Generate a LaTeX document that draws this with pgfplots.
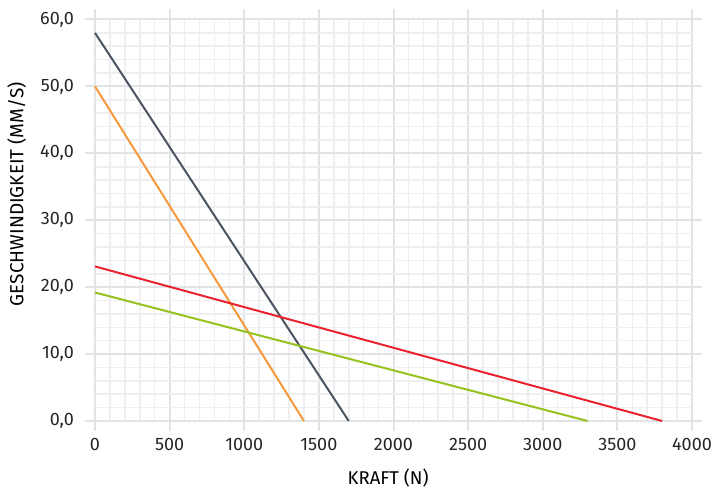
\documentclass[border=0pt]{standalone}
\usepackage{fontspec}
\setmainfont{Fira Sans}
\usepackage{pgfplots}
\pgfplotsset{compat=1.18}
\definecolor{gridmajor}{HTML}{E2E3E5}
\definecolor{gridminor}{HTML}{EFEFF1}
\definecolor{cslate}{HTML}{4B5461}
\definecolor{corange}{HTML}{F59A3B}
\definecolor{cred}{HTML}{E8232E}
\definecolor{cgreen}{HTML}{96C21E}
\begin{document}
\fontsize{18}{21}\selectfont
\begin{tikzpicture}
\begin{axis}[
  width=597pt, height=401.5pt, scale only axis,
  xmin=0, xmax=4000, ymin=0, ymax=60,
  xtick={0,500,...,4000}, ytick={0,10,...,60},
  minor xtick={100,200,...,3900}, minor ytick={2,4,...,58},
  grid=both,
  major grid style={gridmajor, line width=2pt},
  minor grid style={gridminor, line width=1.6pt},
  axis line style={draw=none},
  tick align=outside,
  major tick length=10pt, minor tick length=0pt,
  major tick style={gridmajor, line width=2pt},
  xticklabel style={font=\fontsize{18}{21}\selectfont, color=black!85, yshift=-1pt},
  yticklabel style={font=\fontsize{18}{21}\selectfont, color=black!85, xshift=-5pt,
    /pgf/number format/.cd, fixed, fixed zerofill, precision=1, use comma},
  /pgf/number format/assume math mode=true,
  /pgf/number format/1000 sep={},
  xlabel={KRAFT (N)}, ylabel={GESCHWINDIGKEIT (MM/S)},
  xlabel style={font=\fontsize{18.5}{21}\selectfont, at={(axis description cs:0.491,-0.142)}, anchor=center},
  ylabel style={font=\fontsize{19}{21}\selectfont, at={(axis description cs:-0.131,0.565)}, anchor=center},
  every axis plot/.append style={line width=2pt, no markers},
  clip=false,
]
\addplot[cslate] coordinates {(0,58) (1700,0)};
\addplot[corange] coordinates {(0,50) (1400,0)};
\addplot[cred] coordinates {(0,23.1) (3800,0)};
\addplot[cgreen] coordinates {(0,19.2) (3300,0)};
\end{axis}
\pgfresetboundingbox
\path ([shift={(-95pt,-68pt)}]current axis.south west) rectangle ([shift={(622pt,421pt)}]current axis.south west);
\end{tikzpicture}
\end{document}
